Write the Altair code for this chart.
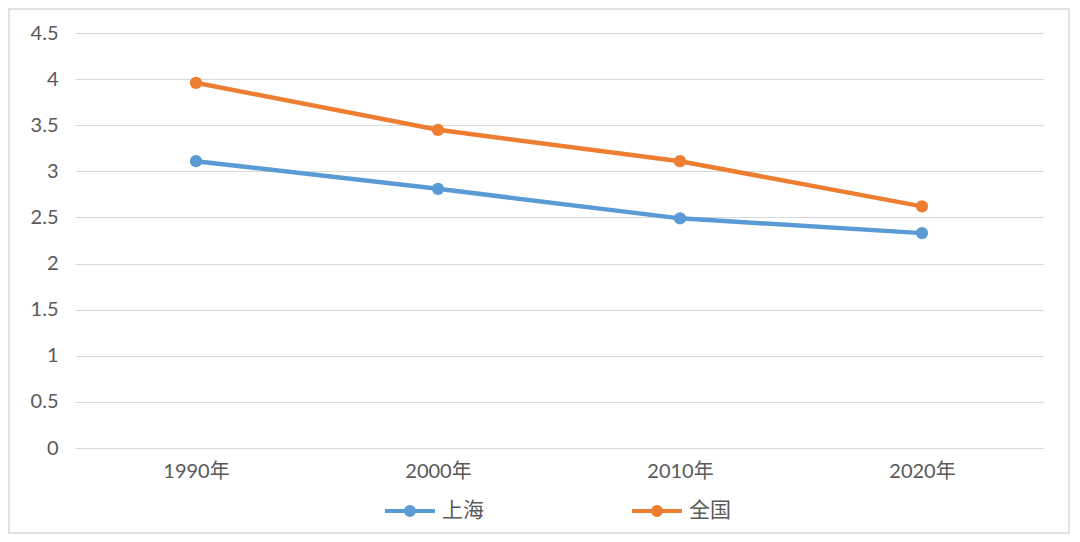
import altair as alt
import pandas as pd

years = ["1990年", "2000年", "2010年", "2020年"]
shanghai = [3.11, 2.81, 2.49, 2.33]
national = [3.96, 3.45, 3.11, 2.62]
series_names = ["上海", "全国"]
series_colors = ["#5B9BD5", "#ED7D31"]
y_ticks = [0, 0.5, 1, 1.5, 2, 2.5, 3, 3.5, 4, 4.5]

rows = []
for yr, v in zip(years, shanghai):
    rows.append({"year": yr, "series": series_names[0], "value": v})
for yr, v in zip(years, national):
    rows.append({"year": yr, "series": series_names[1], "value": v})
df = pd.DataFrame(rows)

FONT = "Lato, 'Noto Sans CJK SC', sans-serif"
W, H = 968, 415

legend_symbol = ("M-1,0L1,0M0.16,0A0.16,0.16,0,1,1,-0.16,0"
                 "A0.16,0.16,0,1,1,0.16,0Z")


def make_legend():
    return alt.Legend(
        title=None, orient="none", legendX=308, legendY=451,
        direction="horizontal", symbolType=legend_symbol,
        symbolSize=2500, symbolStrokeWidth=4, symbolOpacity=1,
        labelFontSize=21, labelFont=FONT, labelColor="#595959",
        labelOffset=5, columnPadding=140, padding=0)


def make_scale():
    return alt.Scale(domain=series_names, range=series_colors)


x_enc = alt.X("year:N", sort=years, title=None,
              axis=alt.Axis(labelAngle=0, labelFontSize=20, labelColor="#595959",
                            labelFont=FONT, ticks=False, domain=False, grid=False,
                            labelPadding=13))
y_enc = alt.Y("value:Q", title=None,
              scale=alt.Scale(domain=[0, 4.5], nice=False, zero=True),
              axis=alt.Axis(values=y_ticks, format="~g", labelFontSize=20,
                            labelColor="#595959", labelFont=FONT, ticks=False,
                            domain=False, grid=True, gridColor="#d9d9d9",
                            gridWidth=1, labelPadding=17))

frame = alt.Chart(pd.DataFrame({"a": [0]})).mark_rect(
    fill="white", fillOpacity=0, stroke="#d9d9d9", strokeWidth=1.5, clip=False
).encode(x=alt.value(-66), x2=alt.value(994), y=alt.value(-24), y2=alt.value(500))

lines = alt.Chart(df).mark_line(strokeWidth=4.5).encode(
    x=x_enc, y=y_enc,
    stroke=alt.Stroke("series:N", scale=make_scale(), sort=series_names,
                      title=None, legend=make_legend()),
)

points = alt.Chart(df).mark_circle(size=150, opacity=1).encode(
    x=x_enc, y=y_enc,
    fill=alt.Fill("series:N", scale=make_scale(), sort=series_names,
                  title=None, legend=make_legend()),
)

chart = alt.layer(frame, lines, points).properties(
    width=W, height=H,
    autosize=alt.AutoSizeParams(type="none"),
    padding={"left": 67, "top": 25, "right": 29, "bottom": 86},
    background="white",
).configure_view(stroke=None)

chart.save("out.html", embed_options={"renderer": "svg", "actions": False})
